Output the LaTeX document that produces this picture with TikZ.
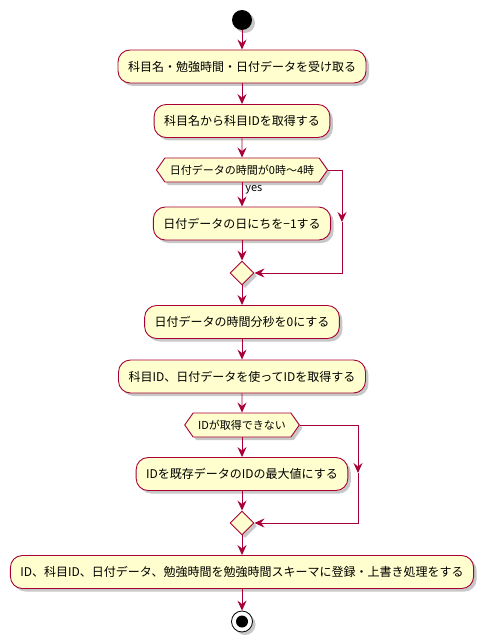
\documentclass[tikz,border=0pt]{standalone}
\usepackage{fontspec}
\setmainfont{Noto Sans CJK JP}
\usetikzlibrary{shapes.geometric,shapes.symbols,arrows.meta,shadows}
\definecolor{pumlred}{HTML}{A80036}
\definecolor{pumlfill}{HTML}{FEFECE}
\begin{document}
\begin{tikzpicture}[x=1pt,y=-1pt,
  shad/.style={drop shadow={shadow xshift=3pt,shadow yshift=-3pt,fill=black,opacity=0.22}},
  act/.style={draw=pumlred,fill=pumlfill,line width=0.9pt,rounded corners=12pt,minimum height=33pt,inner xsep=10pt,inner ysep=0pt,font=\fontsize{12}{14}\selectfont,shad},
  dec/.style={signal,signal to=west and east,signal pointer angle=110,draw=pumlred,fill=pumlfill,line width=0.9pt,minimum height=24pt,inner xsep=5pt,inner ysep=0pt,font=\fontsize{11}{13}\selectfont,shad},
  mrg/.style={diamond,draw=pumlred,fill=pumlfill,line width=0.9pt,minimum width=24pt,minimum height=24pt,inner sep=0pt,aspect=1,shad},
  flow/.style={draw=pumlred,line width=0.9pt,-{Stealth[length=10pt,width=9pt,inset=3.5pt]}},
  lbl/.style={font=\fontsize{11}{13}\selectfont,inner sep=1pt}
]
\useasboundingbox (0,0) rectangle (484,639);
\node[circle,fill=black,minimum size=20pt,inner sep=0pt,shad] (start) at (242,20) {};
\node[act] (b1) at (242,66.5) {科目名・勉強時間・日付データを受け取る};
\node[act] (b2) at (242,121) {科目名から科目IDを取得する};
\node[dec] (h1) at (242,170) {日付データの時間が0時〜4時};
\node[act] (b3) at (242,223.5) {日付データの日にちを−1する};
\node[mrg] (m1) at (242,273) {};
\node[act] (b4) at (242,322) {日付データの時間分秒を0にする};
\node[act] (b5) at (242,376.5) {科目ID、日付データを使ってIDを取得する};
\node[dec] (h2) at (242,425) {IDが取得できない};
\node[act] (b6) at (242,474) {IDを既存データのIDの最大値にする};
\node[mrg] (m2) at (242,523) {};
\node[act] (b7) at (242,572) {ID、科目ID、日付データ、勉強時間を勉強時間スキーマに登録・上書き処理をする};
\node[circle,draw=black,fill=white,line width=0.8pt,minimum size=21pt,inner sep=0pt,shad] (end) at (242,621.5) {};
\node[circle,fill=black,minimum size=12pt,inner sep=0pt] (endin) at (end) {};
\coordinate (r1) at (342,222);
\coordinate (r2) at (358,473);
\draw[flow] (start) -- (b1);
\draw[flow] (b1) -- (b2);
\draw[flow] (b2) -- (h1);
\draw[flow] (h1.south) -- (b3.north) node[lbl,pos=0.3,anchor=west,xshift=2pt] (yes) {yes};
\draw[flow] (b3) -- (m1);
\draw[flow] (h1.east) -| (r1);
\draw[flow] (r1) |- (m1.east);
\draw[flow] (m1) -- (b4);
\draw[flow] (b4) -- (b5);
\draw[flow] (b5) -- (h2);
\draw[flow] (h2.south) -- (b6.north);
\draw[flow] (b6) -- (m2);
\draw[flow] (h2.east) -| (r2);
\draw[flow] (r2) |- (m2.east);
\draw[flow] (m2) -- (b7);
\draw[flow] (b7) -- (end);
\end{tikzpicture}
\end{document}
